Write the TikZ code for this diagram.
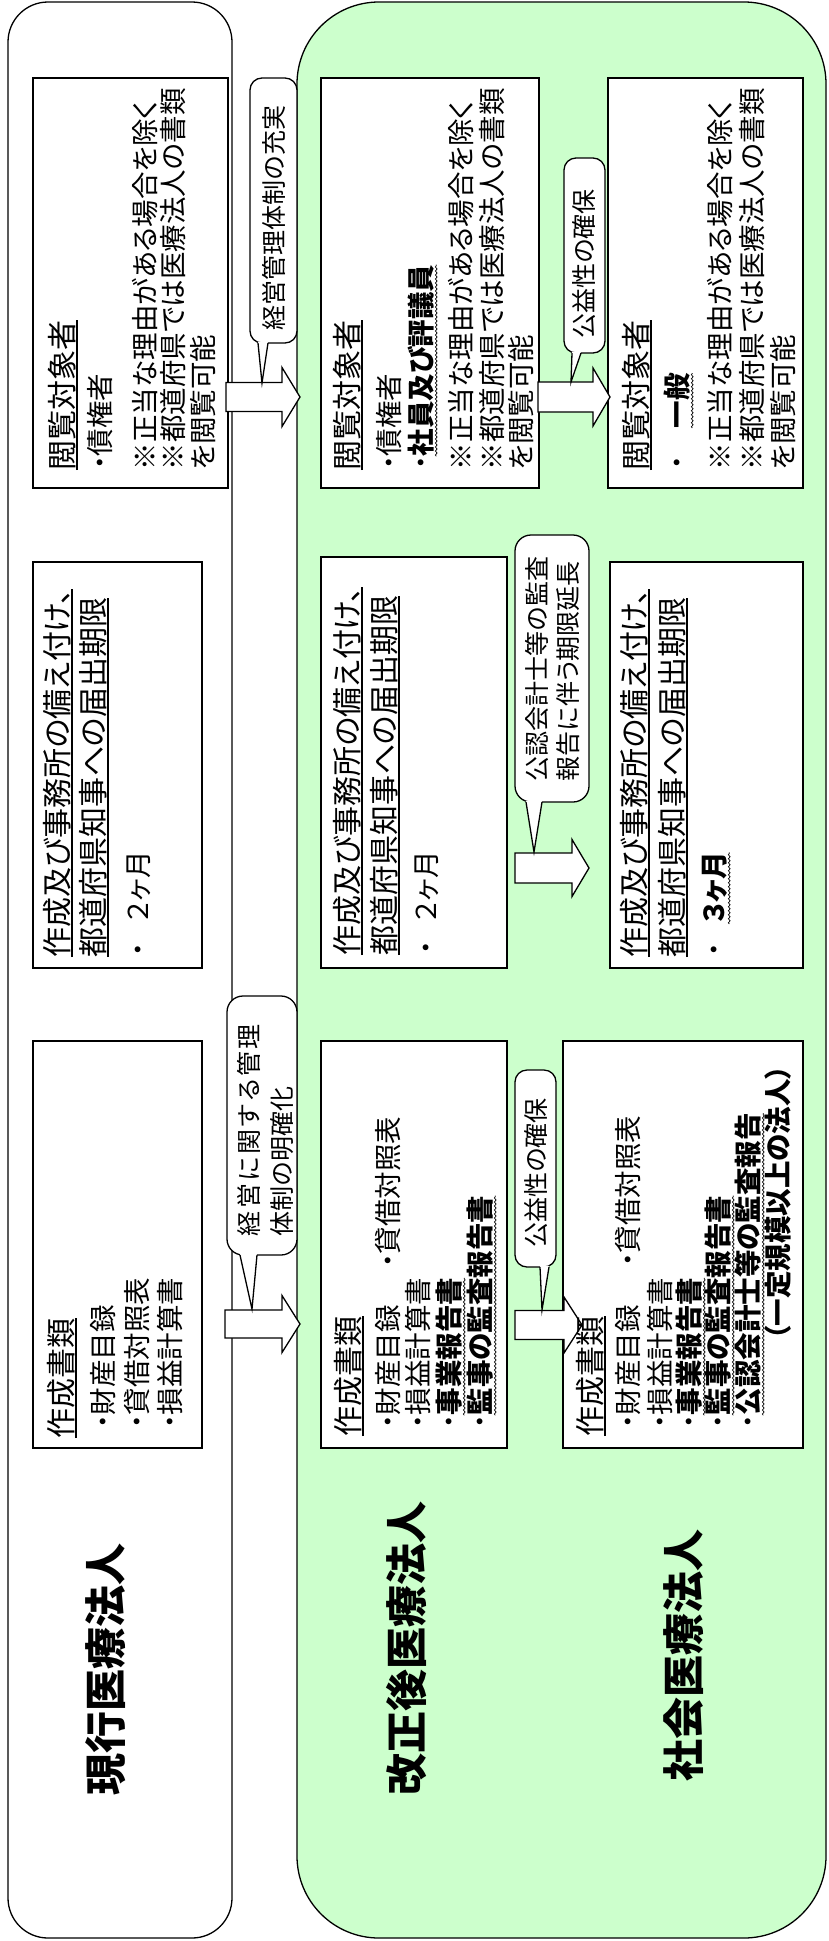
\documentclass[tikz,border=0pt]{standalone}
\usepackage{fontspec}
\setmainfont{Noto Sans CJK JP}[RawFeature=+palt]
\usetikzlibrary{decorations.pathmorphing}
\definecolor{lgreen}{RGB}{204,255,204}
\tikzset{
  jt/.style={rotate=90, inner sep=0pt, outer sep=0pt, anchor=west},
  ttl/.style={jt, font=\fontsize{30}{32}\selectfont, text height=26.4pt, text depth=3.6pt},
  bdy/.style={jt, font=\fontsize{27.5}{30}\selectfont, text height=24.2pt, text depth=3.3pt},
  bdyb/.style={bdy, font=\fontsize{27.5}{30}\selectfont\bfseries},
  cll/.style={jt, font=\fontsize{25}{27}\selectfont, text height=22pt, text depth=3pt},
  big/.style={jt, font=\fontsize{42}{44}\selectfont\bfseries, text height=37pt, text depth=5pt},
  ulst/.style={line width=1.2pt},
  wavy/.style={decorate, decoration={snake, amplitude=0.9pt, segment length=4pt}, line width=0.7pt},
  outerst/.style={draw=black, line width=1.3pt},
  boxst/.style={draw=black, fill=white, line width=2pt},
  arrst/.style={draw=black, fill=white, line width=1.3pt, line join=miter},
  callst/.style={draw=black, fill=white, line width=1.3pt},
}
% #1 x start, #2 x head base, #3 x tip, #4 y centre, #5 body half height, #6 head half height
\newcommand{\blockarr}[6]{%
  \filldraw[arrst] (#1,#4-#5) -- (#2,#4-#5) -- (#2,#4-#6) -- (#3,#4) -- (#2,#4+#6) -- (#2,#4+#5) -- (#1,#4+#5) -- cycle;}
% #1 left, #2 top, #3 right, #4 bottom, #5 radius, #6 base left, #7 base right, #8 tip x, #9 tip y
\newcommand{\callbubble}[9]{%
  \filldraw[callst, rounded corners=#5] (#1,#2) rectangle (#3,#4);
  \fill[white] (#6,#4-1.2) -- (#8,#9) -- (#7,#4-1.2) -- cycle;
  \draw[callst, fill=none, line join=miter] (#6,#4) -- (#8,#9) -- (#7,#4);}
\begin{document}
\begin{tikzpicture}[x=1pt,y=-1pt]
\useasboundingbox (0,0) rectangle (829,1941);
% outer panels
\filldraw[outerst, fill=lgreen, rounded corners=82pt] (297,2) rectangle (826,1938);
\filldraw[outerst, fill=white, rounded corners=40pt] (8,2) rectangle (232,1938);
% boxes
\draw[boxst] (33,78) rectangle (228,488);
\draw[boxst] (321,78) rectangle (539,488);
\draw[boxst] (608,78) rectangle (803,488);
\draw[boxst] (33,562) rectangle (202,968);
\draw[boxst] (321,557) rectangle (507,968);
\draw[boxst] (610,562) rectangle (803,968);
\draw[boxst] (33,1041) rectangle (202,1448);
\draw[boxst] (321,1041) rectangle (507,1448);
\draw[boxst] (563,1041) rectangle (803,1448);
% block arrows
\blockarr{226}{282}{300}{397}{14.5}{29.5}
\blockarr{225}{282}{300}{1324}{14}{28.5}
\blockarr{538}{593}{610}{397}{15}{29}
\blockarr{515}{572}{589}{868}{15}{28.5}
\blockarr{515}{564}{582}{1325}{14.5}{28}
% callouts
\callbubble{250}{78}{297}{343}{12pt}{258}{268}{262}{383}
\callbubble{227}{996}{297}{1255}{16pt}{240}{257}{252}{1309}
\callbubble{564}{158}{605}{353}{12pt}{572}{581}{571}{382}
\callbubble{515}{535}{589}{802}{16pt}{526}{542}{534}{852}
\callbubble{515}{1070}{556}{1267}{12pt}{540}{549}{542}{1310}
% callout texts
\node[cll, anchor=center] (c1) at (274,218) {経営管理体制の充実};
\node[cll] (c2a) at (249,1236) {\makebox[212pt][s]{経\hfil 営\hfil に\hfil 関\hfil す\hfil る\hfil 管\hfil 理}};
\node[cll] (c2b) at (282,1236) {体制の明確化};
\node[cll, anchor=center] (c3) at (584,264) {公益性の確保};
\node[cll] (c4a) at (537,781) {公認会計士等の監査};
\node[cll] (c4b) at (568,781) {報告に伴う期限延長};
\node[cll, anchor=center] (c5) at (536,1173) {公益性の確保};
% big titles
\node[big] (gk) at (105,1795) {現行医療法人};
\node[big] (kg) at (406,1795) {改正後医療法人};
\node[big] (sk) at (683,1781) {社会医療法人};
% A1
\node[ttl] (a1t) at (62,470) {閲覧対象者};
\node[bdy] (a1a) at (100,470) {・債権者};
\node[bdy] (a1b) at (145,470) {※正当な理由がある場合を除く};
\node[bdy] (a1c) at (173,470) {※都道府県では医療法人の書類};
\node[bdy] (a1d) at (203,470) {を閲覧可能};
% B1
\node[ttl] (b1t) at (347,470) {閲覧対象者};
\node[bdy] (b1a) at (389,470) {・債権者};
\node[bdy] (b1b) at (421,470) {・};
\node[bdyb] (b1c) at (b1b.east) {社員及び評議員};
\node[bdy] (b1d) at (461,470) {※正当な理由がある場合を除く};
\node[bdy] (b1e) at (492,470) {※都道府県では医療法人の書類};
\node[bdy] (b1f) at (521,470) {を閲覧可能};
% B2
\node[ttl] (b2t) at (636,470) {閲覧対象者};
\node[bdy] (b2a) at (677,470) {・};
\node[bdyb] (b2b) at (677,428) {一般};
\node[bdy] (b2c) at (720,470) {※正当な理由がある場合を除く};
\node[bdy] (b2d) at (752,470) {※都道府県では医療法人の書類};
\node[bdy] (b2e) at (783,470) {を閲覧可能};
% A2
\node[ttl] (a2t) at (57,957) {作成及び事務所の備え付け、};
\node[ttl] (a2u) at (93,957) {都道府県知事への届出期限};
\node[bdy] (a2a) at (138,957) {・};
\node[bdy] (a2b) at (138,922) {２ヶ月};
% B3
\node[ttl] (b3t) at (347,955) {作成及び事務所の備え付け、};
\node[ttl] (b3u) at (384,955) {都道府県知事への届出期限};
\node[bdy] (b3a) at (426,955) {・};
\node[bdy] (b3b) at (426,922) {２ヶ月};
% B4
\node[ttl] (b4t) at (634,957) {作成及び事務所の備え付け、};
\node[ttl] (b4u) at (672,957) {都道府県知事への届出期限};
\node[bdy] (b4a) at (714,957) {・};
\node[bdyb] (b4b) at (714,924) {３ヶ月};
% A3
\node[ttl] (a3t) at (61,1438) {作成書類};
\node[bdy] (a3a) at (103,1429) {・財産目録};
\node[bdy] (a3b) at (137,1429) {・貸借対照表};
\node[bdy] (a3c) at (170,1429) {・損益計算書};
% B5
\node[ttl] (b5t) at (348,1436) {作成書類};
\node[bdy] (b5a) at (388,1429) {・財産目録};
\node[bdy] (b5b) at (388,1268) {・貸借対照表};
\node[bdy] (b5c) at (418,1429) {・損益計算書};
\node[bdy] (b5d) at (449,1429) {・};
\node[bdyb] (b5e) at (b5d.east) {事業報告書};
\node[bdy] (b5f) at (480,1429) {・};
\node[bdyb] (b5g) at (b5f.east) {監事の監査報告書};
% B6
\node[ttl] (b6t) at (590,1436) {作成書類};
\node[bdy] (b6a) at (628,1429) {・財産目録};
\node[bdy] (b6b) at (628,1267) {・貸借対照表};
\node[bdy] (b6c) at (660,1429) {・損益計算書};
\node[bdy] (b6d) at (689,1429) {・};
\node[bdyb] (b6e) at (b6d.east) {事業報告書};
\node[bdy] (b6f) at (718,1429) {・};
\node[bdyb] (b6g) at (b6f.east) {監事の監査報告書};
\node[bdy] (b6h) at (748,1429) {・};
\node[bdyb] (b6i) at (b6h.east) {公認会計士等の監査報告};
\node[bdyb] (b6j) at (778,1340) {（一定規模以上の法人）};
% underlines
\foreach \n in {a1t,b1t,b2t,a2t,a2u,b3t,b3u,b4t,b4u,a3t,b5t,b6t}
  \draw[ulst] (\n.south west) -- (\n.south east);
\foreach \n in {b1c,b2b,b4b,b5e,b5g,b6e,b6g,b6i}
  \draw[wavy] ([xshift=1.5pt]\n.south west) -- ([xshift=1.5pt]\n.south east);
\end{tikzpicture}
\end{document}
